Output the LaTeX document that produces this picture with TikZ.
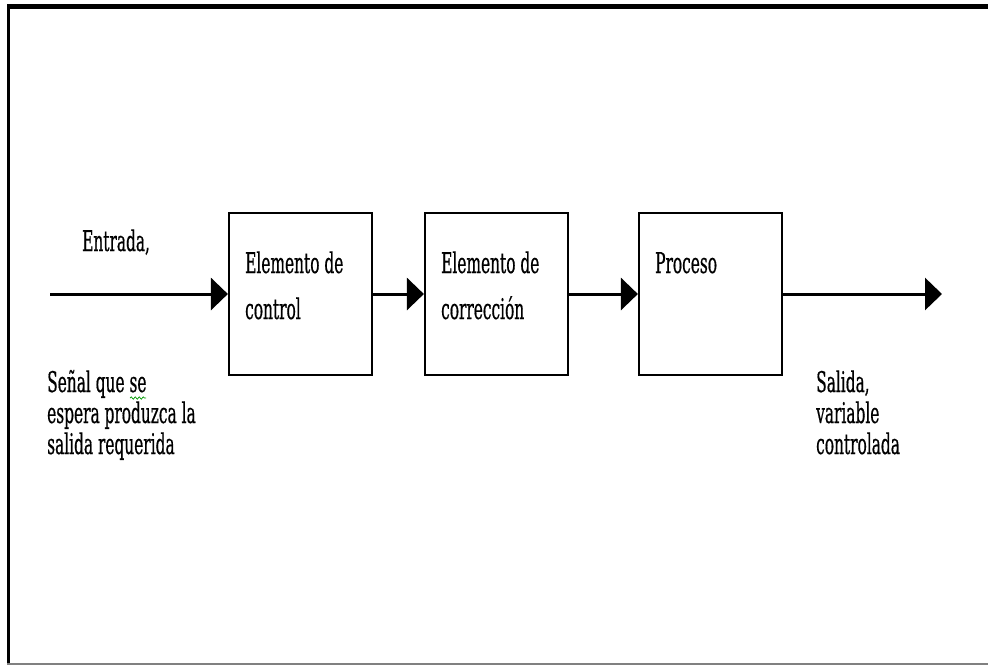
\documentclass[tikz,border=0pt]{standalone}
\usepackage{fontspec}
\setmainfont{DejaVu Serif}[FakeStretch=0.54,FakeBold=0.5]
\usetikzlibrary{arrows.meta,decorations.pathmorphing}
\begin{document}
\begin{tikzpicture}[x=1pt,y=-1pt,
  blk/.style={draw=black,line width=2.2pt,minimum width=143pt,minimum height=162pt,inner sep=0pt},
  arr/.style={line width=3pt,-{Triangle[length=17pt,width=32pt]}},
  txt/.style={anchor=base west,inner sep=0pt,font=\fontsize{28.5}{46}\selectfont}]
\useasboundingbox (0,0) rectangle (988,665);
\fill[white] (0,0) rectangle (988,665);
% frame
\draw[line width=5pt] (8,6.5) -- (988,6.5);
\draw[line width=3pt] (8.5,4) -- (8.5,663);
\draw[line width=2pt,gray] (7,663.5) -- (988,663.5);
% blocks
\node[blk] (b1) at (300.5,294) {};
\node[blk] (b2) at (496.5,294) {};
\node[blk] (b3) at (710.5,294) {};
\node[txt] (t1a) at (245,273) {Elemento de};
\node[txt] (t1b) at (245,319) {control};
\node[txt] (t2a) at (441,273) {Elemento de};
\node[txt] (t2b) at (441,319) {corrección};
\node[txt] (t3a) at (655,273) {Proceso};
% connectors
\coordinate (in) at (50,294);
\coordinate (out) at (942,294);
\draw[arr] (in) -- (b1.west);
\draw[arr] (b1.east) -- (b2.west);
\draw[arr] (b2.east) -- (b3.west);
\draw[arr] (b3.east) -- (out);
% labels
\node[txt] (ent) at (82,251) {Entrada,};
\node[txt] (s1) at (47,392) {Señal que se};
\node[txt] (s2) at (47,423) {espera produzca la};
\node[txt] (s3) at (47,454) {salida requerida};
\node[txt] (o1) at (816,392) {Salida,};
\node[txt] (o2) at (816,423) {variable};
\node[txt] (o3) at (816,454) {controlada};
\draw[green!60!black,line width=0.7pt,decorate,decoration={snake,amplitude=1.2pt,segment length=4pt}] (130,398) -- (146,398);
\end{tikzpicture}
\end{document}
